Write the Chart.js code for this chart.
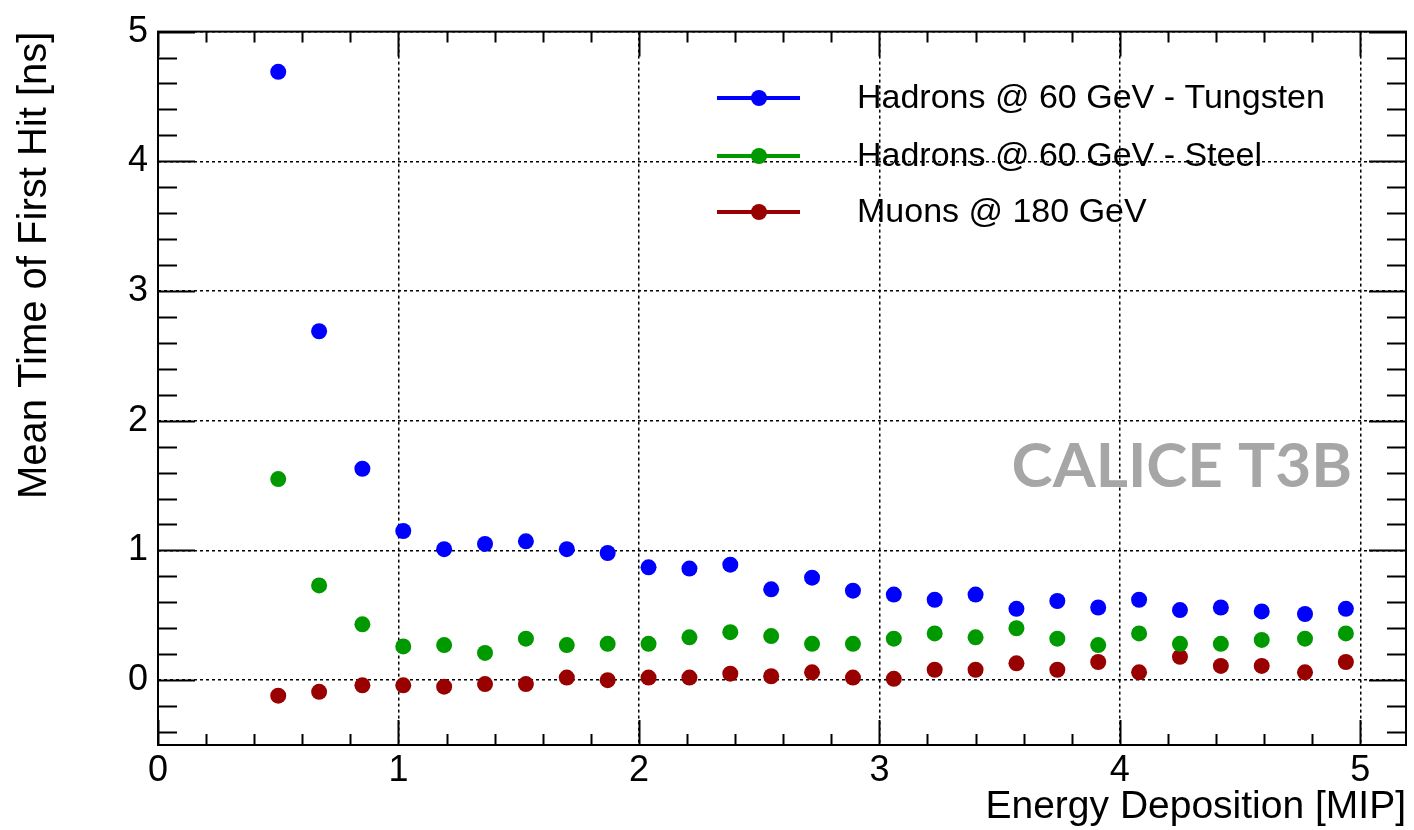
<!DOCTYPE html>
<html>
<head>
<meta charset="utf-8">
<script src="https://cdn.jsdelivr.net/npm/chart.js@4.4.1/dist/chart.umd.min.js"></script>
<style>
  html, body { margin: 0; padding: 0; background: #fff; }
  #wrap { width: 1414px; height: 830px; }
</style>
</head>
<body>
<div id="wrap"><canvas id="timeChart" width="1414" height="830"></canvas></div>
<script>
"use strict";

// bin centres [MIP]
const energyMip = [0.50, 0.67, 0.85, 1.02, 1.19, 1.36, 1.53, 1.70, 1.87, 2.04, 2.21, 2.38, 2.55, 2.72,
  2.89, 3.06, 3.23, 3.40, 3.57, 3.74, 3.91, 4.08, 4.25, 4.42, 4.59, 4.77, 4.94];
// mean time of first hit [ns]
const tungstenTime = [4.69, 2.69, 1.63, 1.15, 1.01, 1.05, 1.07, 1.01, 0.98, 0.87, 0.86, 0.89, 0.70, 0.79,
  0.69, 0.66, 0.62, 0.66, 0.55, 0.61, 0.56, 0.62, 0.54, 0.56, 0.53, 0.51, 0.55];
const steelTime = [1.55, 0.73, 0.43, 0.26, 0.27, 0.21, 0.32, 0.27, 0.28, 0.28, 0.33, 0.37, 0.34, 0.28,
  0.28, 0.32, 0.36, 0.33, 0.40, 0.32, 0.27, 0.36, 0.28, 0.28, 0.31, 0.32, 0.36];
const muonTime = [-0.12, -0.09, -0.04, -0.04, -0.05, -0.03, -0.03, 0.02, 0.00, 0.02, 0.02, 0.05, 0.03, 0.06,
  0.02, 0.01, 0.08, 0.08, 0.13, 0.08, 0.14, 0.06, 0.18, 0.11, 0.11, 0.06, 0.14];

const seriesLabels = ["Hadrons @ 60 GeV - Tungsten", "Hadrons @ 60 GeV - Steel", "Muons @ 180 GeV"];
const seriesColors = ["#0000ff", "#009900", "#990000"];
const xTicks = [0, 1, 2, 3, 4, 5];
const yTicks = [0, 1, 2, 3, 4, 5];

const FONT = "'Liberation Sans', Arial, Helvetica, sans-serif";

const toPoints = (ys) => ys.map((y, i) => ({ x: energyMip[i], y: y }));

// ROOT-like frame: inward major/minor ticks on all four sides
const framePlugin = {
  id: "frame",
  afterDraw(chart) {
    const { ctx, chartArea: a, scales } = chart;
    const xs = scales.x, ys = scales.y;
    ctx.save();
    ctx.strokeStyle = "#000";
    ctx.lineWidth = 2;
    ctx.strokeRect(a.left, a.top, a.right - a.left, a.bottom - a.top);
    ctx.beginPath();
    for (let k = 0; k <= 26; k++) {
      const v = k * 0.2;
      if (v > xs.max) break;
      const px = Math.round(xs.getPixelForValue(v)) + 0.5;
      const len = k % 5 === 0 ? 25 : 11;
      ctx.moveTo(px, a.bottom); ctx.lineTo(px, a.bottom - len);
      ctx.moveTo(px, a.top); ctx.lineTo(px, a.top + len);
    }
    for (let k = -2; k <= 25; k++) {
      const v = k * 0.2;
      const py = Math.round(ys.getPixelForValue(v)) + 0.5;
      const len = k % 5 === 0 ? 37 : 19;
      ctx.moveTo(a.left, py); ctx.lineTo(a.left + len, py);
      ctx.moveTo(a.right, py); ctx.lineTo(a.right - len, py);
    }
    ctx.lineWidth = 2;
    ctx.stroke();

    // legend
    ctx.font = "34px " + FONT;
    ctx.textBaseline = "middle";
    ctx.textAlign = "left";
    const rows = [98, 156, 212];
    chart.data.datasets.forEach((ds, i) => {
      const y = rows[i];
      ctx.strokeStyle = ds.backgroundColor;
      ctx.lineWidth = 4;
      ctx.beginPath(); ctx.moveTo(717, y); ctx.lineTo(800, y); ctx.stroke();
      ctx.fillStyle = ds.backgroundColor;
      ctx.beginPath(); ctx.arc(759, y, 8, 0, Math.PI * 2); ctx.fill();
      ctx.fillStyle = "#000";
      ctx.fillText(ds.label, 857, y + 1);
    });

    // watermark
    ctx.font = "bold 62px Lato, 'Open Sans', sans-serif";
    ctx.fillStyle = "#a6a6a6";
    ctx.textAlign = "right";
    ctx.fillText("CALICE T3B", 1352, 467);
    ctx.restore();
  },
};

const canvas = document.getElementById("timeChart");
const chart = new Chart(canvas, {
  type: "scatter",
  data: {
    datasets: [
      { label: seriesLabels[0], data: toPoints(tungstenTime), backgroundColor: seriesColors[0] },
      { label: seriesLabels[1], data: toPoints(steelTime), backgroundColor: seriesColors[1] },
      { label: seriesLabels[2], data: toPoints(muonTime), backgroundColor: seriesColors[2] },
    ],
  },
  options: {
    responsive: false,
    animation: false,
    devicePixelRatio: 1,
    layout: { padding: { top: 25, right: 7, left: 0, bottom: 0 } },
    elements: {
      point: { radius: 8, borderWidth: 0, pointStyle: "circle" },
    },
    plugins: {
      legend: { display: false },
      tooltip: { enabled: false },
    },
    scales: {
      x: {
        type: "linear",
        min: 0,
        max: 5.19,
        afterBuildTicks: (scale) => { scale.ticks = xTicks.map((v) => ({ value: v })); },
        afterFit: (scale) => { scale.height = 85; },
        grid: { color: "#000", lineWidth: 1.5, drawTicks: false },
        border: { display: false, dash: [3, 3] },
        ticks: { color: "#000", font: { family: FONT, size: 36 }, padding: 4, maxRotation: 0,
          callback: (v) => String(v) },
        title: { display: true, text: "Energy Deposition [MIP]", align: "end", color: "#000",
          font: { family: FONT, size: 39, lineHeight: 1 }, padding: { top: 0, bottom: 3 } },
      },
      y: {
        type: "linear",
        min: -0.5,
        max: 5,
        afterBuildTicks: (scale) => { scale.ticks = yTicks.map((v) => ({ value: v })); },
        afterFit: (scale) => { scale.width = 158; },
        grid: { color: "#000", lineWidth: 1.5, drawTicks: false },
        border: { display: false, dash: [3, 3] },
        ticks: { color: "#000", font: { family: FONT, size: 36 }, padding: 10,
          callback: (v) => String(v) },
        title: { display: true, text: "Mean Time of First Hit [ns]", align: "end", color: "#000",
          font: { family: FONT, size: 40, lineHeight: 1 }, padding: { top: 15, bottom: 0 } },
      },
    },
  },
  plugins: [framePlugin],
});
</script>
</body>
</html>
